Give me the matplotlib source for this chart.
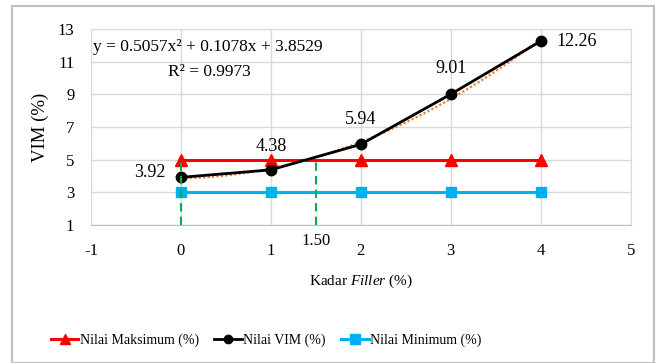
import numpy as np
import matplotlib
matplotlib.use("Agg")
import matplotlib.pyplot as plt
from matplotlib.patches import Rectangle
from matplotlib.lines import Line2D

plt.rcParams['font.family'] = ['Liberation Serif', 'DejaVu Serif']
plt.rcParams['mathtext.fontset'] = 'custom'
plt.rcParams['mathtext.rm'] = 'Liberation Serif'
plt.rcParams['mathtext.it'] = 'Liberation Serif:italic'

filler = [0, 1, 2, 3, 4]
vim = [3.92, 4.38, 5.94, 9.01, 12.26]
vim_max = [5, 5, 5, 5, 5]
vim_min = [3, 3, 3, 3, 3]
opt_filler = 1.50
trend_coef = [0.5057, 0.1078, 3.8529]
trend_r2 = 0.9973
xticks = [-1, 0, 1, 2, 3, 4, 5]
yticks = [1, 3, 5, 7, 9, 11, 13]

red = '#FF0000'
blue = '#00B0F0'
green = '#00B050'
orange = '#ED7D31'
grid = '#D9D9D9'

fig = plt.figure(figsize=(6.59, 3.63), dpi=100)
ax = fig.add_axes([0.138, 0.380, 0.819, 0.540])

# outer chart frame
fig.patches.append(Rectangle((12 / 659, 0.0), 642 / 659, 357 / 363,
                             transform=fig.transFigure, fill=False,
                             edgecolor='#BFBFBF', lw=1.5))

# polynomial trend line (from the equation shown on the chart)
xs = np.linspace(filler[0], filler[-1], 100)
ax.plot(xs, np.polyval(trend_coef, xs), color=orange, lw=1.6, ls=(0, (1, 1)), zorder=4)

ax.plot(filler, vim_max, color=red, lw=2.2, marker='^', ms=8, zorder=3)
ax.plot(filler, vim, color='black', lw=2.0, marker='o', ms=7.5, zorder=5)
ax.plot(filler, vim_min, color=blue, lw=2.2, marker='s', ms=7.5, zorder=3)

# guide lines
ax.plot([0, 0], [1, 5], color=green, lw=1.5, ls=(0, (4, 2.5)), zorder=6)
ax.plot([opt_filler, opt_filler], [1, 5], color=green, lw=1.5, ls=(0, (4, 2.5)), zorder=6)
ax.text(opt_filler, 0.05, '%.2f' % opt_filler, ha='center', va='center', fontsize=12)

# data labels
ax.text(filler[0] - 0.17, vim[0] + 0.3, '%.2f' % vim[0], ha='right', va='center', fontsize=13)
ax.text(filler[1], vim[1] + 1.45, '%.2f' % vim[1], ha='center', va='center', fontsize=13)
for x, y in zip(filler[2:4], vim[2:4]):
    ax.text(x, y + 1.55, '%.2f' % y, ha='center', va='center', fontsize=13)
ax.text(filler[4] + 0.17, vim[4], '%.2f' % vim[4], ha='left', va='center', fontsize=13)

ax.text(-0.98, 11.9, 'y = %.4fx² + %.4fx + %.4f' % tuple(trend_coef),
        ha='left', va='center', fontsize=12.5)
ax.text(0.32, 10.4, 'R² = %.4f' % trend_r2, ha='center', va='center', fontsize=12.5)

ax.set_xlim(-1, 5)
ax.set_ylim(1, 13)
ax.set_xticks(xticks)
ax.set_yticks(yticks)
ax.set_xticklabels([str(t) for t in xticks])
ax.set_yticklabels([str(t) for t in yticks])
ax.tick_params(axis='x', length=0, pad=13, labelsize=12)
ax.tick_params(axis='y', length=0, pad=12, labelsize=12)
ax.grid(color=grid, lw=1)
ax.set_axisbelow(True)
for s in ax.spines.values():
    s.set_color(grid)
ax.spines['bottom'].set_color('#BFBFBF')

ax.set_xlabel('Kadar $\\it{Filler}$ (%)', fontsize=11, labelpad=10)
ax.set_ylabel('VIM (%)', fontsize=13.5, labelpad=6)

handles = [
    Line2D([], [], color=red, lw=2.2, marker='^', ms=7),
    Line2D([], [], color='black', lw=2.0, marker='o', ms=6),
    Line2D([], [], color=blue, lw=2.2, marker='s', ms=6.5),
]
fig.legend(handles, ['Nilai Maksimum (%)', 'Nilai VIM (%)', 'Nilai Minimum (%)'],
           loc='center', bbox_to_anchor=(0.404, 0.063), ncol=3, frameon=False,
           fontsize=10, handlelength=2.0, handletextpad=0.1, columnspacing=1.1)

fig.savefig('out.png', dpi=100)
